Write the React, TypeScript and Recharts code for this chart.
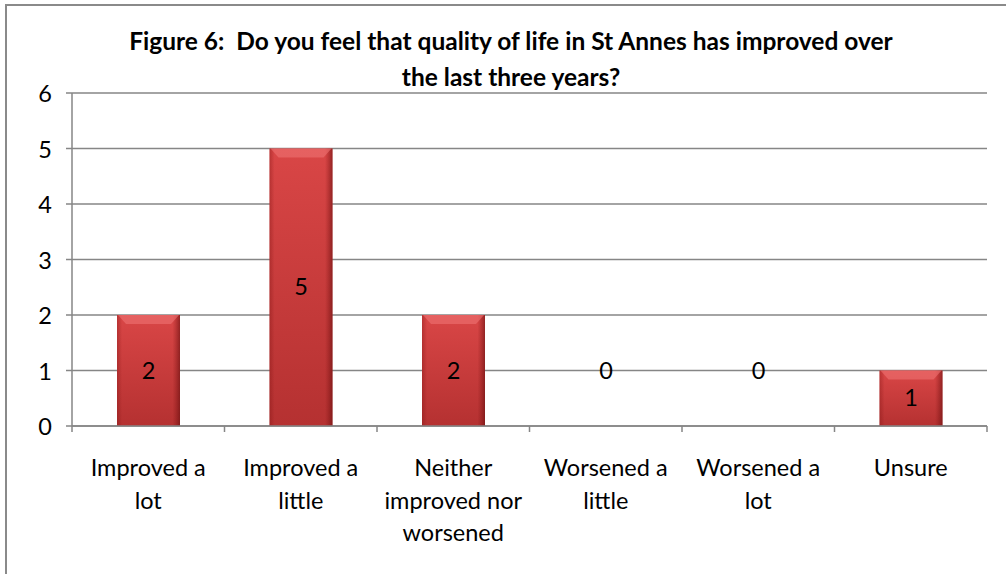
import React from 'react';
import { BarChart, Bar, XAxis, YAxis, CartesianGrid, LabelList } from 'recharts';

const categories = [
  'Improved a lot',
  'Improved a little',
  'Neither improved nor worsened',
  'Worsened a little',
  'Worsened a lot',
  'Unsure',
];
const categoryLines: string[][] = [
  ['Improved a', 'lot'],
  ['Improved a', 'little'],
  ['Neither', 'improved nor', 'worsened'],
  ['Worsened a', 'little'],
  ['Worsened a', 'lot'],
  ['Unsure'],
];
const counts = [2, 5, 2, 0, 0, 1];
const yTicks = [0, 1, 2, 3, 4, 5, 6];
const titleLines = [
  'Figure 6:  Do you feel that quality of life in St Annes has improved over',
  'the last three years?',
];

const data = categories.map((c, i) => ({ name: c, value: counts[i], idx: i }));

const W = 1006;
const H = 574;
const Y_W = 72;
const M_RIGHT = 19;
const M_TOP = 93;
const X_H = 148;
const FONT = 'Lato, "Open Sans", "Liberation Sans", sans-serif';
const GRID = '#868686';
const BAND = (W - Y_W - M_RIGHT) / categories.length;

const BarShape = (props: any) => {
  const { x, y, width, height } = props;
  if (!height || height <= 0) return null;
  const bev = Math.min(9, height / 3);
  return (
    <g>
      <rect x={x} y={y} width={width} height={height} fill="url(#vgrad)" />
      <rect x={x} y={y} width={width} height={height} fill="url(#hgrad)" />
      <polygon
        points={`${x + 1},${y} ${x + width - 1},${y} ${x + width - bev},${y + bev} ${x + bev},${y + bev}`}
        fill="#ee7373"
        opacity={0.6}
      />
    </g>
  );
};

const XTick = (props: any) => {
  const { x, y, payload, index } = props;
  const i0 = payload.index ?? index;
  const lines = categoryLines[i0] || [String(payload.value)];
  return (
    <g>
      <line x1={x - BAND / 2} y1={y - 8} x2={x - BAND / 2} y2={y - 2} stroke={GRID} strokeWidth={1.5} />
      {i0 === categories.length - 1 && (
        <line x1={x + BAND / 2} y1={y - 8} x2={x + BAND / 2} y2={y - 2} stroke={GRID} strokeWidth={1.5} />
      )}
      <text x={x} y={y + 42} textAnchor="middle" fontFamily={FONT} fontSize={23.5} fill="#000">
        {lines.map((l, i) => (
          <tspan key={i} x={x} dy={i === 0 ? 0 : 32.5}>
            {l}
          </tspan>
        ))}
      </text>
    </g>
  );
};

const ValueLabel = (props: any) => {
  const { x, y, width, height, value } = props;
  const unit = (H - X_H - M_TOP) / 6;
  const cy = height > 0 ? y + height / 2 : y - unit;
  return (
    <text x={x + width / 2} y={cy} dy={8} textAnchor="middle" fontFamily={FONT} fontSize={23.5} fill="#000">
      {value}
    </text>
  );
};

export default function App() {
  return (
    <div style={{ position: 'absolute', left: 0, top: 0, width: W, height: H, background: '#fff', overflow: 'hidden' }}>
      <div
        style={{
          position: 'absolute',
          left: 5,
          top: 4,
          width: W + 10,
          height: H + 10,
          border: '2px solid #8a8a8a',
          boxSizing: 'border-box',
        }}
      />
      <svg width={W} height={90} style={{ position: 'absolute', left: 0, top: 0 }}>
        {titleLines.map((t, i) => (
          <text
            key={i}
            x={511}
            y={50 + i * 36}
            textAnchor="middle"
            fontFamily={FONT}
            fontWeight="bold"
            fontSize={24.5}
            fill="#000"
            style={{ whiteSpace: 'pre' }}
          >
            {t}
          </text>
        ))}
      </svg>
      <div style={{ position: 'absolute', left: 0, top: 0 }}>
        <BarChart width={W} height={H} data={data} margin={{ top: M_TOP, right: M_RIGHT, bottom: 0, left: 0 }}>
          <defs>
            <linearGradient id="vgrad" x1="0" y1="0" x2="0" y2="1">
              <stop offset="0%" stopColor="#d94646" />
              <stop offset="100%" stopColor="#b53131" />
            </linearGradient>
            <linearGradient id="hgrad" x1="0" y1="0" x2="1" y2="0">
              <stop offset="0%" stopColor="#7a1010" stopOpacity={0.35} />
              <stop offset="8%" stopColor="#7a1010" stopOpacity={0.0} />
              <stop offset="88%" stopColor="#7a1010" stopOpacity={0.0} />
              <stop offset="100%" stopColor="#5a0808" stopOpacity={0.55} />
            </linearGradient>
          </defs>
          <CartesianGrid vertical={false} stroke={GRID} strokeWidth={1.5} strokeDasharray="" />
          <XAxis
            dataKey="name"
            height={X_H}
            interval={0}
            axisLine={{ stroke: GRID, strokeWidth: 1.5 }}
            tickLine={false}
            tick={<XTick />}
          />
          <YAxis
            width={Y_W}
            domain={[0, 6]}
            ticks={yTicks}
            interval={0}
            axisLine={{ stroke: GRID, strokeWidth: 1.5 }}
            tickLine={{ stroke: GRID, strokeWidth: 1.5 }}
            tickSize={6}
            tickMargin={14}
            tick={{ fontFamily: FONT, fontSize: 23.5, fill: '#000', dy: 1 }}
          />
          <Bar dataKey="value" barSize={63} shape={<BarShape />} isAnimationActive={false}>
            <LabelList dataKey="value" content={<ValueLabel />} />
          </Bar>
        </BarChart>
      </div>
    </div>
  );
}
